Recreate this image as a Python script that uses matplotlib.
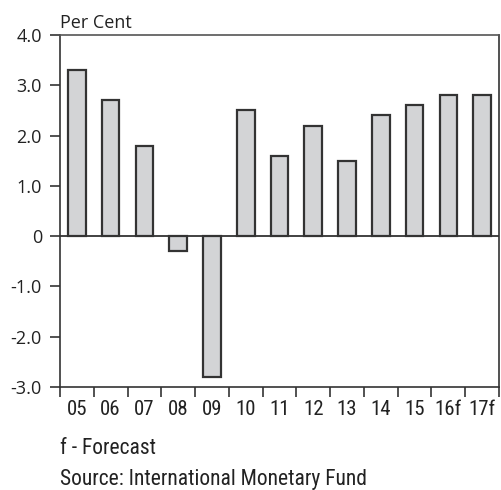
import matplotlib
matplotlib.use("Agg")
import matplotlib.pyplot as plt
from matplotlib import font_manager
import numpy as np

categories = ["05", "06", "07", "08", "09", "10", "11", "12", "13", "14", "15", "16f", "17f"]
values = [3.3, 2.7, 1.8, -0.3, -2.8, 2.5, 1.6, 2.2, 1.5, 2.4, 2.6, 2.8, 2.8]
yticks = [-3.0, -2.0, -1.0, 0, 1.0, 2.0, 3.0, 4.0]
ytick_labels = ["-3.0", "-2.0", "-1.0", "0", "1.0", "2.0", "3.0", "4.0"]

plt.rcParams['font.family'] = ['Open Sans', 'DejaVu Sans']


def has_font(name):
    try:
        font_manager.findfont(font_manager.FontProperties(family=name), fallback_to_default=False)
        return True
    except Exception:
        return False


narrow_name = None
for cand in ['Liberation Sans Narrow', 'Roboto Condensed', 'Open Sans Condensed']:
    if has_font(cand):
        narrow_name = cand
        break

if narrow_name:
    narrow = [narrow_name, 'Open Sans', 'DejaVu Sans']
    xfs, foot_fs, xpad = 15, 15.5, 9
else:
    narrow = ['Open Sans', 'DejaVu Sans']
    xfs, foot_fs, xpad = 13, 13, 8

dark = "#333333"
txt = "#222222"

fig = plt.figure(figsize=(5.01, 4.90), dpi=100)
ax = fig.add_axes([60/501, 1-387/490, (499-60)/501, (387-35)/490])

x = np.arange(len(categories))
ax.bar(x, values, width=0.52, color="#d3d4d6", edgecolor=dark, linewidth=1.6, zorder=2)
ax.axhline(0, color=dark, linewidth=1.3, zorder=3)

ax.set_xlim(-0.5, len(categories) - 0.5)
ax.set_ylim(-3.0, 4.0)
ax.set_yticks(yticks)
ax.set_yticklabels(ytick_labels)
ax.set_xticks(x)
ax.set_xticklabels(categories, family=narrow, fontsize=xfs)
ax.set_xticks(np.arange(len(categories) + 1) - 0.5, minor=True)

ax.tick_params(axis='x', which='major', length=0, pad=xpad, colors=txt)
ax.tick_params(axis='x', which='minor', length=7, width=1.2, color=dark, direction='out')
ax.tick_params(axis='y', which='major', length=7, width=1.2, color=dark, direction='out',
               pad=6, labelsize=13, labelcolor=txt)

for s in ax.spines.values():
    s.set_color(dark)
    s.set_linewidth(1.2)
ax.spines['top'].set_color("#555555")

fig.text(60/501, 1-28/490, "Per Cent", fontsize=13, color=txt, va='baseline', ha='left')
fig.text(60/501, 1-454/490, "f - Forecast", fontsize=foot_fs, family=narrow, color=txt,
         va='baseline', ha='left')
fig.text(60/501, 1-485/490, "Source: International Monetary Fund", fontsize=foot_fs,
         family=narrow, color=txt, va='baseline', ha='left')

fig.savefig("out.png", dpi=100)
